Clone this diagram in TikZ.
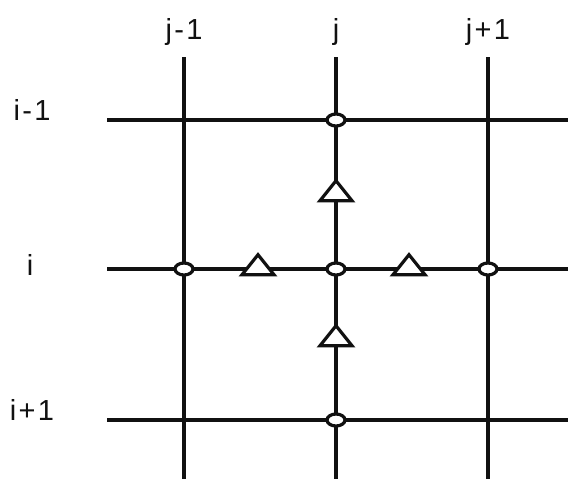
\documentclass[tikz,border=0pt]{standalone}
\usepackage{fontspec}
\setmainfont{Liberation Sans}
\newfontfamily\idxfont[LetterSpace=8]{Liberation Sans}
\usetikzlibrary{positioning,shapes.geometric}
\definecolor{ink}{HTML}{111111}
\tikzset{
  gridline/.style={draw=ink, line width=3.4pt},
  gpt/.style={ellipse, draw=ink, line width=3.2pt, fill=white,
    minimum width=18pt, minimum height=12pt, inner sep=0pt},
  tri/.style={isosceles triangle, shape border rotate=90, isosceles triangle stretches,
    draw=ink, line width=3.2pt, fill=white, minimum width=32pt, minimum height=20pt,
    inner sep=0pt},
  idx/.style={font=\idxfont\fontsize{29pt}{31pt}\selectfont, text=ink, inner sep=0pt,
    anchor=base},
}

\begin{document}
\begin{tikzpicture}[x=1pt, y=-1pt]
    \useasboundingbox (0,0) rectangle (568,479);
    % grid ends
    \coordinate (jm-top) at (184,57);  \coordinate (jm-bot) at (184,479);
    \coordinate (j-top)  at (336,57);  \coordinate (j-bot)  at (336,479);
    \coordinate (jp-top) at (488,57);  \coordinate (jp-bot) at (488,479);
    \coordinate (im-left) at (107,120); \coordinate (im-right) at (568,120);
    \coordinate (i-left)  at (107,269); \coordinate (i-right)  at (568,269);
    \coordinate (ip-left) at (107,420); \coordinate (ip-right) at (568,420);
    \draw[gridline] (jm-top) -- (jm-bot);
    \draw[gridline] (j-top) -- (j-bot);
    \draw[gridline] (jp-top) -- (jp-bot);
    \draw[gridline] (im-left) -- (im-right);
    \draw[gridline] (i-left) -- (i-right);
    \draw[gridline] (ip-left) -- (ip-right);
    % grid points
    \node[gpt] (p-im-j)  at (336,120) {};
    \node[gpt] (p-i-jm)  at (184,269) {};
    \node[gpt] (p-i-j)   at (336,269) {};
    \node[gpt] (p-i-jp)  at (488,269) {};
    \node[gpt] (p-ip-j)  at (336,420) {};
    % half points
    \node[tri] (h-up)    at (336,193) {};
    \node[tri] (h-down)  at (336,338) {};
    \node[tri] (h-left)  at (258,267) {};
    \node[tri] (h-right) at (409,267) {};
    % indices
    \node[idx] (lab-jm) at (184,39) {j-1};
    \node[idx] (lab-j)  at (336,39) {j};
    \node[idx] (lab-jp) at (488,39) {j+1};
    \node[idx] (lab-im) at (32,120) {i-1};
    \node[idx] (lab-i)  at (30,275) {i};
    \node[idx] (lab-ip) at (32,420) {i+1};
  \end{tikzpicture}
\end{document}
